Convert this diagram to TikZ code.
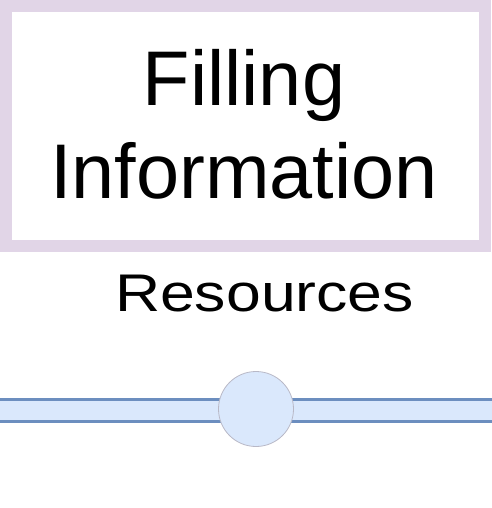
\documentclass[tikz,border=0pt]{standalone}
\usepackage{fontspec}
\setmainfont{Liberation Sans}
\definecolor{lilac}{HTML}{E1D5E7}
\definecolor{paleblue}{HTML}{DAE8FC}
\definecolor{steelblue}{HTML}{6C8EBF}
\definecolor{softgray}{HTML}{B8B8C6}
\begin{document}
\begin{tikzpicture}[x=1pt,y=-1pt,
			frame/.style={draw=lilac, line width=12pt, minimum width=479pt, minimum height=240pt, inner sep=0pt},
			bigtext/.style={font=\fontsize{77.5}{93.3}\selectfont, align=center, inner sep=0pt},
			smalltext/.style={font=\fontsize{53}{60}\selectfont, inner sep=0pt, xscale=1.18},
			band/.style={draw=steelblue, line width=3pt, double=paleblue, double distance=18.6pt},
			joint/.style={draw=softgray, fill=paleblue, circle, minimum size=75pt, inner sep=0pt, line width=0.8pt}
			]
			\useasboundingbox (0,0) rectangle (491,508);
			\node [frame] (box) at (245.5,126) {};
			% base sits on the last line
			\node [bigtext, anchor=base] (title) at (244,198.3) {Filling\\Information};
			\node [smalltext, anchor=base] (res) at (264.5,311.5) {Resources};
			\coordinate (west) at (-2,410.3);
			\coordinate (east) at (493,410.3);
			\draw [band] (west) -- (east);
			\node [joint] (hub) at (256,409) {};
		\end{tikzpicture}
\end{document}
